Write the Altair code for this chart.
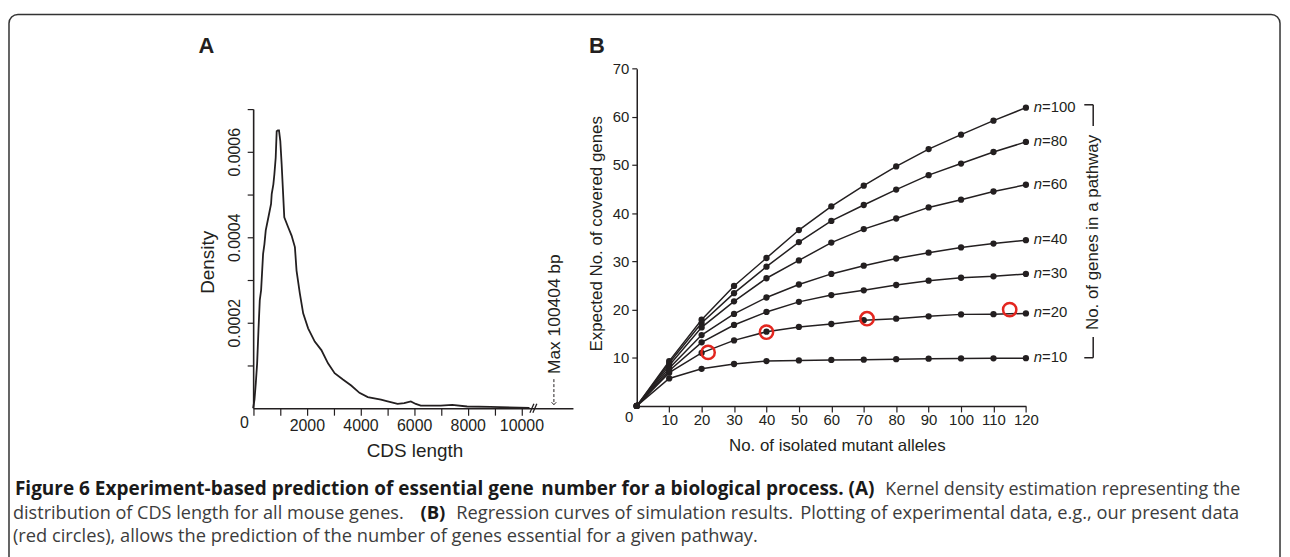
import altair as alt
import pandas as pd

# ---------------- Panel A: kernel density of CDS length ----------------
cds_len = [0, 49, 99, 148, 198, 247, 296, 370, 420, 469,
           568, 667, 691, 753, 790, 840, 877, 920, 963, 1012,
           1062, 1111, 1160, 1309, 1432, 1556, 1617, 1741, 1864, 2049,
           2296, 2543, 2790, 3037, 3346, 3654, 3963, 4272, 4765, 5012,
           5383, 5630, 5877, 6062, 6247, 6988, 7420, 7975, 8840, 10300]
density_e4 = [0.0, 0.2, 0.59, 1.05, 1.83, 2.53, 2.76, 3.61, 3.84, 4.16,
              4.47, 4.78, 5.01, 5.24, 5.47, 5.86, 6.48, 6.5, 6.5, 6.25,
              5.71, 5.09, 4.47, 4.23, 4.04, 3.77, 3.22, 2.68, 2.22, 1.87,
              1.56, 1.36, 1.05, 0.82, 0.67, 0.53, 0.36, 0.26, 0.2, 0.16,
              0.1, 0.12, 0.16, 0.1, 0.06, 0.06, 0.08, 0.04, 0.03, 0.01]
xA_ticks = [0, 1000, 2000, 3000, 4000, 5000, 6000, 7000, 8000, 9000, 10000]
yA_ticks = [0.0001, 0.0002, 0.0003, 0.0004, 0.0005, 0.0006, 0.0007]
break_x = [10316, 10426]
break_x2 = [10464, 10574]
break_y = [-0.0000105, -0.0000105]
break_y2 = [0.0000105, 0.0000105]
max_note = ["Max 100404 bp"]
max_x = [11210]
max_arrow_top = [0.000068]
max_arrow_tip = [0.0000085]
max_text_x = [11247]
max_text_y = [0.000220]

# ---------------- Panel B: simulation curves ----------------
alleles = [0, 10, 20, 30, 40, 50, 60, 70, 80, 90, 100, 110, 120]
n_values = [10, 20, 30, 40, 60, 80, 100]
n10 = [0, 5.7, 7.7, 8.7, 9.3, 9.45, 9.55, 9.6, 9.7, 9.8, 9.85, 9.88, 9.9]
n20 = [0, 6.9, 11.0, 13.6, 15.4, 16.4, 17.0, 17.8, 18.1, 18.6, 19.0, 19.05, 19.2]
n30 = [0, 7.3, 13.2, 16.8, 19.5, 21.6, 23.0, 24.0, 25.1, 26.0, 26.6, 26.9, 27.4]
n40 = [0, 7.8, 14.7, 19.1, 22.5, 25.2, 27.4, 29.1, 30.6, 31.8, 32.9, 33.7, 34.4]
n60 = [0, 8.4, 16.3, 21.7, 26.5, 30.2, 33.9, 36.7, 38.9, 41.2, 42.8, 44.5, 45.9]
n80 = [0, 8.9, 17.2, 23.4, 28.9, 34.0, 38.4, 41.7, 44.9, 47.9, 50.3, 52.7, 54.8]
n100 = [0, 9.3, 17.9, 24.9, 30.7, 36.5, 41.4, 45.7, 49.7, 53.3, 56.3, 59.2, 61.9]
obs_x = [22, 40, 71, 115]
obs_y = [11.1, 15.3, 18.1, 20.0]
xB_ticks = [10, 20, 30, 40, 50, 60, 70, 80, 90, 100, 110, 120]
yB_ticks = [10, 20, 30, 40, 50, 60, 70]
bracket_x = [138.0, 140.75, 140.75, 138.0]
bracket_x2 = [140.75, 140.75, 140.75, 140.75]
bracket_y = [62.5, 62.5, 14.3, 10.0]
bracket_y2 = [62.5, 58.1, 10.0, 10.0]
bracket_label = ["No. of genes in a pathway"]
bracket_label_x = [140.75]
bracket_label_y = [36.0]

# ---------------- Caption (chunks of each justified line) ----------------
cap1_bold_a = "Figure 6 Experiment-based prediction of essential gene"
cap1_bold_b = "number for a biological process. (A)"
cap1_reg = "Kernel density estimation representing the"
cap2_a = "distribution of CDS length for all mouse genes."
cap2_bold = "(B)"
cap2_c = "Regression curves of simulation results."
cap2_d = "Plotting of experimental data, e.g., our present data"
cap3 = "(red circles), allows the prediction of the number of genes essential for a given pathway."

# ---------------- Layout (pixels inside the view) ----------------
W, H = 1282, 549
FONT = "Liberation Sans"
CAPFONT = "Open Sans"
INK = "#231f20"
RED = "#e3261f"
AX0, AX1, AY0, AY1 = 246.7, 568.5, 401.0, 100.0
BX0, BX1, BY0, BY1 = 632.7, 1024.3, 398.7, 59.3

one = pd.DataFrame({"k": [0]})

# ----- Panel A -----
xA = alt.Scale(domain=[0, 11920], range=[AX0, AX1], nice=False, zero=False)
yA = alt.Scale(domain=[0, 0.0007], range=[AY0, AY1], nice=False, zero=False)
axAx = alt.Axis(orient="bottom", offset=AY0 - H, values=xA_ticks, format="d",
                labelExpr="(datum.value > 0 && datum.value % 2000 == 0) ? datum.label : ''",
                tickSize=7, tickWidth=1.2, domainWidth=1.6, labelFontSize=16, labelPadding=2,
                labelOverlap=False, labelFlush=False,
                title="CDS length", titleFontSize=19, titleFontWeight="normal",
                titleX=409, titleY=42.7, titleAlign="center", titleBaseline="middle")
axAy = alt.Axis(orient="left", offset=-AX0, values=yA_ticks,
                labelExpr="(datum.value == 0.0002 || datum.value == 0.0004 || datum.value == 0.0006) ? format(datum.value, '.4f') : ''",
                tickSize=6, tickWidth=1.2, domainWidth=1.6, labelFontSize=16, labelAngle=270,
                labelAlign="center", labelBaseline="alphabetic", labelPadding=8,
                labelOverlap=False, labelFlush=False,
                title="Density", titleFontSize=19, titleFontWeight="normal", titleAngle=270,
                titleX=-45.7, titleY=253.7, titleAlign="center", titleBaseline="middle")
XA = alt.X("x:Q", scale=xA, axis=axAx)
YA = alt.Y("y:Q", scale=yA, axis=axAy)

dfA = pd.DataFrame({"x": cds_len, "y": [v * 1e-4 for v in density_e4]})
curveA = alt.Chart(dfA).mark_line(color=INK, strokeWidth=1.8).encode(x=XA, y=YA)

dfBreak = pd.DataFrame({"x": break_x, "x2": break_x2, "y": break_y, "y2": break_y2})
breakA = alt.Chart(dfBreak).mark_rule(color=INK, strokeWidth=1.3).encode(
    x=XA, x2="x2:Q", y=YA, y2="y2:Q")

zeroA = alt.Chart(pd.DataFrame({"x": [0], "y": [0], "t": ["0"]})).mark_text(
    dx=-8.7, dy=14.7, fontSize=16, align="center", baseline="middle", color=INK).encode(
    x=XA, y=YA, text="t:N")

dfMax = pd.DataFrame({"x": max_x, "y": max_arrow_top, "y2": max_arrow_tip})
arrowA = alt.Chart(dfMax).mark_rule(color=INK, strokeWidth=1, strokeDash=[3, 2]).encode(
    x=XA, y=YA, y2="y2:Q")
headA = alt.Chart(dfMax).mark_point(shape="M-1,-1L0,0L1,-1", filled=False, size=22,
                                   strokeWidth=1, color=INK, opacity=1).encode(
    x=XA, y=alt.Y("y2:Q", scale=yA, axis=axAy))
dfMaxT = pd.DataFrame({"x": max_text_x, "y": max_text_y, "t": max_note})
maxText = alt.Chart(dfMaxT).mark_text(angle=270, fontSize=17.5, align="center",
                                      baseline="middle", color=INK).encode(
    x=XA, y=YA, text="t:N")

panelA = alt.layer(curveA, breakA, zeroA, arrowA, headA, maxText)

# ----- Panel B -----
xB = alt.Scale(domain=[0, 120], range=[BX0, BX1], nice=False, zero=False)
yB = alt.Scale(domain=[0, 70], range=[BY0, BY1], nice=False, zero=False)
axBx = alt.Axis(orient="bottom", offset=BY0 - H, values=xB_ticks, tickSize=6, tickWidth=1.2,
                domainWidth=1.5, labelFontSize=15, labelPadding=1, labelOverlap=False,
                labelFlush=False, title="No. of isolated mutant alleles", titleFontSize=17,
                titleFontWeight="normal", titleX=834, titleY=40.3, titleAlign="center",
                titleBaseline="middle")
axBy = alt.Axis(orient="left", offset=-BX0, values=yB_ticks, tickSize=5, tickWidth=1.2,
                domainWidth=1.5, labelFontSize=15, labelPadding=3, labelOverlap=False,
                labelFlush=False, title="Expected No. of covered genes", titleFontSize=17,
                titleFontWeight="normal", titleAngle=270, titleX=-40, titleY=225,
                titleAlign="center", titleBaseline="middle")
XB = alt.X("x:Q", scale=xB, axis=axBx)
YB = alt.Y("y:Q", scale=yB, axis=axBy)

rows = []
for n, ys in zip(n_values, [n10, n20, n30, n40, n60, n80, n100]):
    for a, v in zip(alleles, ys):
        rows.append({"x": a, "y": v, "n": n})
dfB = pd.DataFrame(rows)
linesB = alt.Chart(dfB).mark_line(color=INK, strokeWidth=1.5).encode(x=XB, y=YB, detail="n:N")
dotsB = alt.Chart(dfB).mark_circle(size=40, color=INK, opacity=1).encode(x=XB, y=YB)
dfObs = pd.DataFrame({"x": obs_x, "y": obs_y})
obsB = alt.Chart(dfObs).mark_point(shape="circle", filled=False, size=180, strokeWidth=2.5,
                                   color=RED, opacity=1).encode(x=XB, y=YB)

last = dfB[dfB["x"] == alleles[-1]].copy()
last["eq"] = ["=" + str(n) for n in last["n"]]
labN = alt.Chart(last).mark_text(text="n", fontStyle="italic", fontSize=15, align="left",
                                 baseline="middle", dx=8, dy=-1, color=INK).encode(x=XB, y=YB)
labEq = alt.Chart(last).mark_text(fontSize=15, align="left", baseline="middle", dx=16.3,
                                  dy=-1, color=INK).encode(x=XB, y=YB, text="eq:N")

dfBr = pd.DataFrame({"x": bracket_x, "x2": bracket_x2, "y": bracket_y, "y2": bracket_y2})
bracket = alt.Chart(dfBr).mark_rule(color=INK, strokeWidth=1.5).encode(
    x=XB, x2="x2:Q", y=YB, y2="y2:Q")
dfBrT = pd.DataFrame({"x": bracket_label_x, "y": bracket_label_y, "t": bracket_label})
bracketT = alt.Chart(dfBrT).mark_text(angle=270, fontSize=17, align="center",
                                      baseline="middle", color=INK).encode(x=XB, y=YB, text="t:N")
zeroB = alt.Chart(pd.DataFrame({"x": [0], "y": [0], "t": ["0"]})).mark_text(
    dx=-7.7, dy=11.3, fontSize=15, align="center", baseline="middle", color=INK).encode(
    x=XB, y=YB, text="t:N")

panelB = alt.layer(linesB, dotsB, obsB, labN, labEq, bracket, bracketT, zeroB)

# ----- Letters, caption, frame -----
def txt(s, x, y, size, weight="normal", align="left", font=FONT, color=INK, baseline="alphabetic"):
    return alt.Chart(one).mark_text(text=s, fontSize=size, fontWeight=weight, align=align,
                                    baseline=baseline, font=font, color=color).encode(
        x=alt.value(x), y=alt.value(y))

letters = [txt("A", 199.7, 36.8, 22, "bold", "center", baseline="middle"),
           txt("B", 592.7, 36.7, 22, "bold", "center", baseline="middle")]
CAPREG = "#3c3c3c"
CAPBOLD = "#1a1a1a"
caption = [
    txt(cap1_bold_a, 7, 488, 19.1, "bold", "left", CAPFONT, CAPBOLD),
    txt(cap1_bold_b, 872, 488, 19.1, "bold", "right", CAPFONT, CAPBOLD),
    txt(cap1_reg, 1240, 488, 18, "normal", "right", CAPFONT, CAPREG),
    txt(cap2_a, 5, 512.7, 18.2, "normal", "left", CAPFONT, CAPREG),
    txt(cap2_bold, 415, 512.7, 18.6, "bold", "left", CAPFONT, CAPBOLD),
    txt(cap2_c, 451, 512.7, 18.4, "normal", "left", CAPFONT, CAPREG),
    txt(cap2_d, 1239, 512.7, 18.4, "normal", "right", CAPFONT, CAPREG),
    txt(cap3, 5, 536, 18.4, "normal", "left", CAPFONT, CAPREG),
]
frame = alt.Chart(one).mark_rect(fill="transparent", stroke="#333333", strokeWidth=1.5,
                                 cornerRadius=9).encode(
    x=alt.value(1), x2=alt.value(1280), y=alt.value(4.7), y2=alt.value(H + 30))

chart = alt.layer(frame, panelA, panelB, *letters, *caption).resolve_scale(
    x="independent", y="independent"
).properties(
    width=W, height=H, padding=0, autosize=alt.AutoSizeParams(type="none")
).configure_view(stroke="transparent").configure_axis(
    grid=False, labelFont=FONT, titleFont=FONT, labelColor=INK, titleColor=INK,
    domainColor=INK, tickColor=INK
)

chart.save("out.html", embed_options={"renderer": "svg", "actions": False})
